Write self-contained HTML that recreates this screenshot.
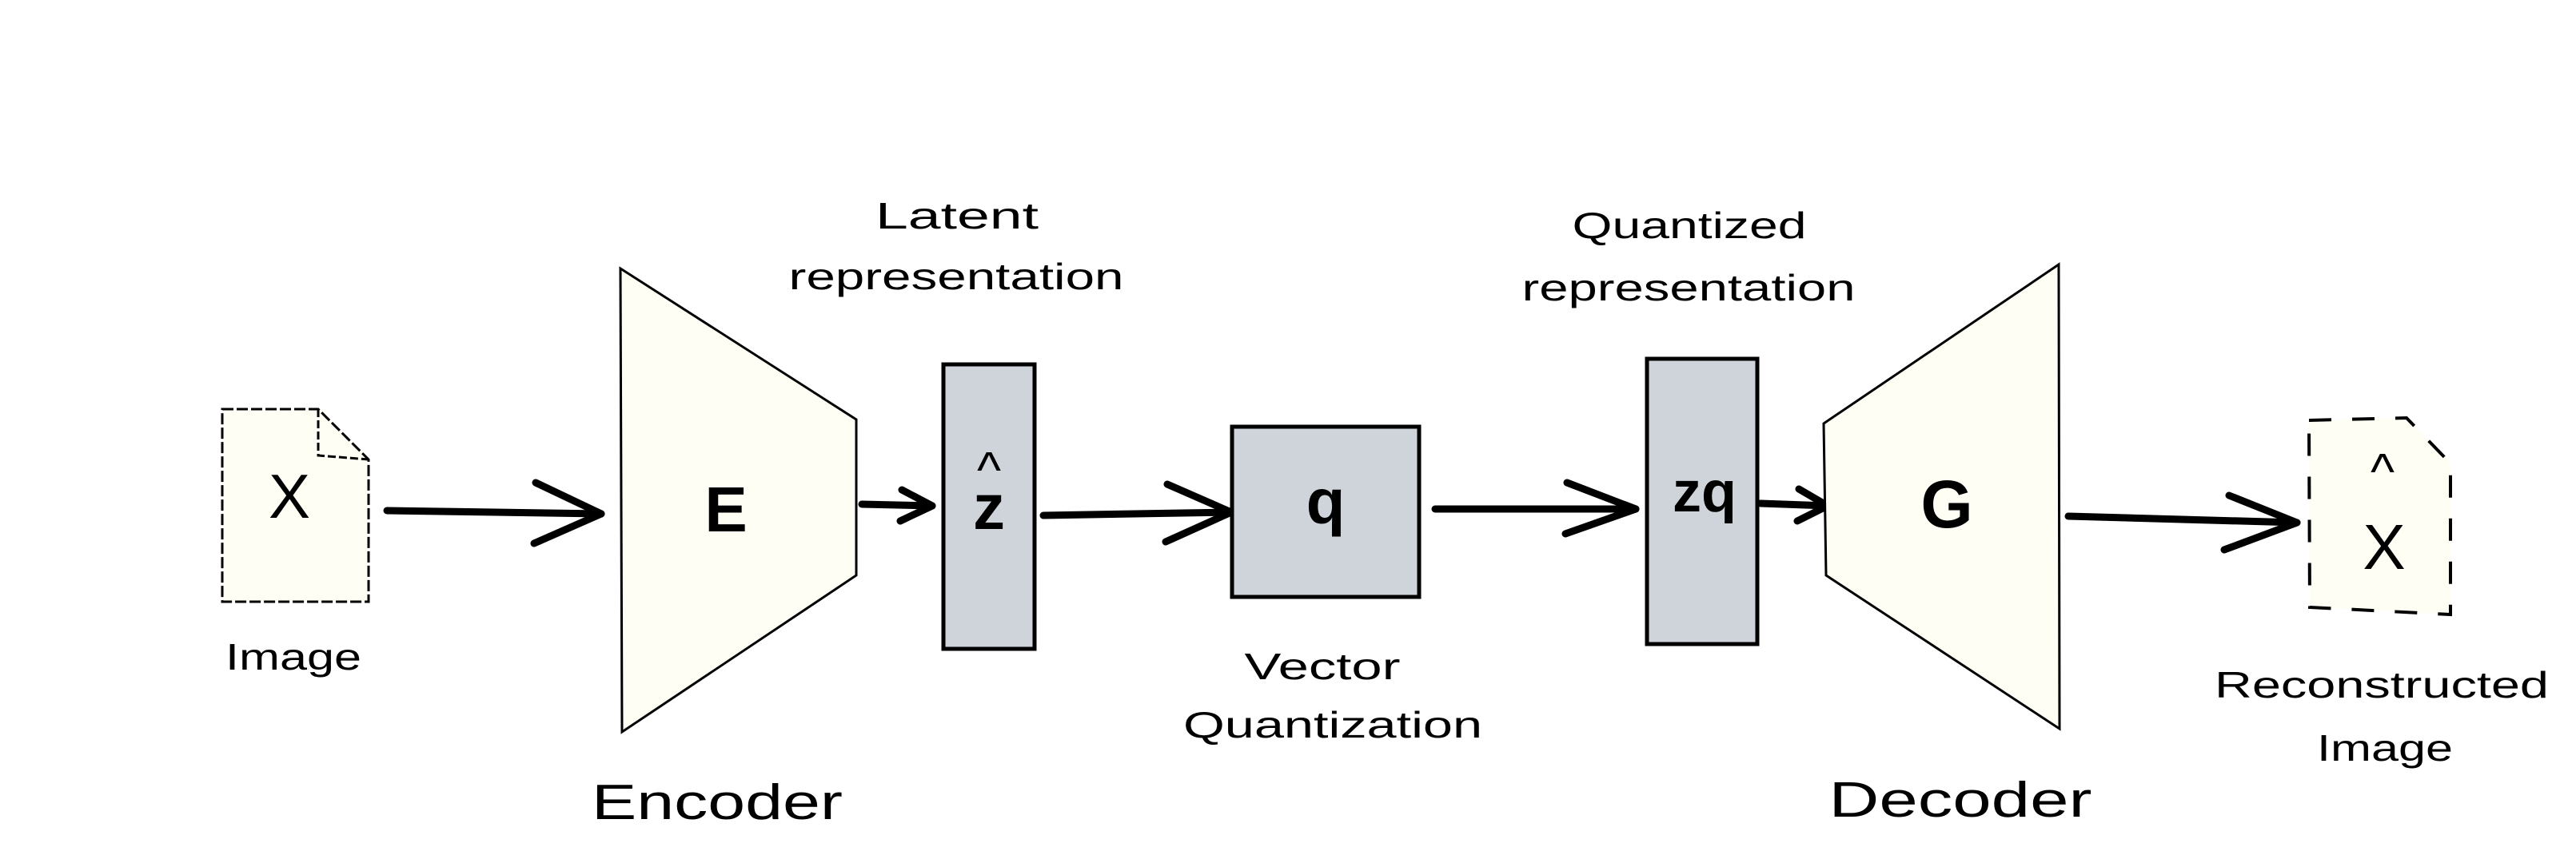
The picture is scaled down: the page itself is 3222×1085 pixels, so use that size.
<!DOCTYPE html>
<html><head><meta charset="utf-8"><style>
html,body{margin:0;padding:0;background:#fff;}
svg{display:block;}
text{font-family:"Liberation Sans","DejaVu Sans",sans-serif;fill:#000;}
</style></head><body>
<svg width="3222" height="1085" viewBox="0 0 3222 1085" xmlns="http://www.w3.org/2000/svg">
<rect x="0" y="0" width="3222" height="1085" fill="#fff"/>

<!-- input image doc -->
<g>
<path d="M278 512 L398 512 L461 575 L461 753 L278 753 Z" fill="#fffef5" stroke="#000" stroke-width="3" stroke-dasharray="14 4"/>
<path d="M398 512 L398 570 L461 575" fill="none" stroke="#000" stroke-width="3" stroke-dasharray="10 4"/>
<text x="362" y="648" font-size="78" text-anchor="middle">X</text>
</g>
<text x="367" y="838" font-size="46" textLength="170" lengthAdjust="spacingAndGlyphs" text-anchor="middle">Image</text>

<!-- arrow 1 -->
<g stroke="#000" stroke-width="9" fill="none" stroke-linecap="round" stroke-linejoin="round">
<path d="M484 639 L752 643"/><path d="M670 604 L752 643 L668 680"/>
</g>

<!-- encoder -->
<g>
<path d="M776 336 L1071 525 L1071 720 L778 916 Z" fill="#fffef5" stroke="#000" stroke-width="3"/>
<text x="908" y="665" font-size="80" text-anchor="middle" font-weight="bold">E</text>
</g>
<text x="897" y="1025" font-size="62" textLength="314" lengthAdjust="spacingAndGlyphs" text-anchor="middle">Encoder</text>

<!-- arrow 2 -->
<g stroke="#000" stroke-width="9" fill="none" stroke-linecap="round" stroke-linejoin="round">
<path d="M1078 631 L1166 633"/><path d="M1128 613 L1166 633 L1126 652"/>
</g>

<!-- z hat box -->
<g>
<rect x="1180" y="456" width="114" height="356" fill="#ced4da" stroke="#000" stroke-width="5"/>
<text x="1237" y="610" font-size="64" text-anchor="middle">^</text>
<text x="1237" y="662" font-size="80" text-anchor="middle" font-weight="bold">z</text>
</g>
<text x="1197" y="286" font-size="46" textLength="204" lengthAdjust="spacingAndGlyphs" text-anchor="middle">Latent</text>
<text x="1196" y="362" font-size="46" textLength="419" lengthAdjust="spacingAndGlyphs" text-anchor="middle">representation</text>

<!-- arrow 3 -->
<g stroke="#000" stroke-width="9" fill="none" stroke-linecap="round" stroke-linejoin="round">
<path d="M1305 645 L1540 641"/><path d="M1460 606 L1540 641 L1458 678"/>
</g>

<!-- q box -->
<g>
<rect x="1541" y="534" width="234" height="213" fill="#ced4da" stroke="#000" stroke-width="5"/>
<text x="1658" y="655" font-size="80" text-anchor="middle" font-weight="bold">q</text>
</g>
<text x="1654" y="850" font-size="46" textLength="195" lengthAdjust="spacingAndGlyphs" text-anchor="middle">Vector</text>
<text x="1667" y="923" font-size="46" textLength="374" lengthAdjust="spacingAndGlyphs" text-anchor="middle">Quantization</text>

<!-- arrow 4 -->
<g stroke="#000" stroke-width="9" fill="none" stroke-linecap="round" stroke-linejoin="round">
<path d="M1795 637 L2046 637"/><path d="M1960 604 L2046 637 L1958 668"/>
</g>

<!-- zq box -->
<g>
<rect x="2060" y="449" width="138" height="357" fill="#ced4da" stroke="#000" stroke-width="5"/>
<text x="2132" y="640" font-size="72" text-anchor="middle" font-weight="bold">zq</text>
</g>
<text x="2113" y="298" font-size="46" textLength="293" lengthAdjust="spacingAndGlyphs" text-anchor="middle">Quantized</text>
<text x="2112" y="376" font-size="46" textLength="417" lengthAdjust="spacingAndGlyphs" text-anchor="middle">representation</text>

<!-- arrow 5 -->
<g stroke="#000" stroke-width="9" fill="none" stroke-linecap="round" stroke-linejoin="round">
<path d="M2202 630 L2286 633"/><path d="M2250 612 L2286 633 L2248 652"/>
</g>

<!-- decoder -->
<g>
<path d="M2281 530 L2575 331 L2576 912 L2284 720 Z" fill="#fffef5" stroke="#000" stroke-width="3"/>
<text x="2435" y="660" font-size="84" text-anchor="middle" font-weight="bold">G</text>
</g>
<text x="2452" y="1022" font-size="62" textLength="329" lengthAdjust="spacingAndGlyphs" text-anchor="middle">Decoder</text>

<!-- arrow 6 -->
<g stroke="#000" stroke-width="9" fill="none" stroke-linecap="round" stroke-linejoin="round">
<path d="M2587 646 L2873 654"/><path d="M2788 620 L2873 654 L2782 688"/>
</g>

<!-- recon doc -->
<g>
<path d="M2888 526 L3010 523 L3065 580 L3065 769 L2889 760 Z" fill="#fffef5" stroke="#000" stroke-width="4" stroke-dasharray="28 26"/>
<text x="2980" y="612" font-size="64" text-anchor="middle">^</text>
<text x="2982" y="712" font-size="80" text-anchor="middle">X</text>
</g>
<text x="2979" y="873" font-size="46" textLength="418" lengthAdjust="spacingAndGlyphs" text-anchor="middle">Reconstructed</text>
<text x="2983" y="952" font-size="46" textLength="170" lengthAdjust="spacingAndGlyphs" text-anchor="middle">Image</text>
</svg>
</body></html>
